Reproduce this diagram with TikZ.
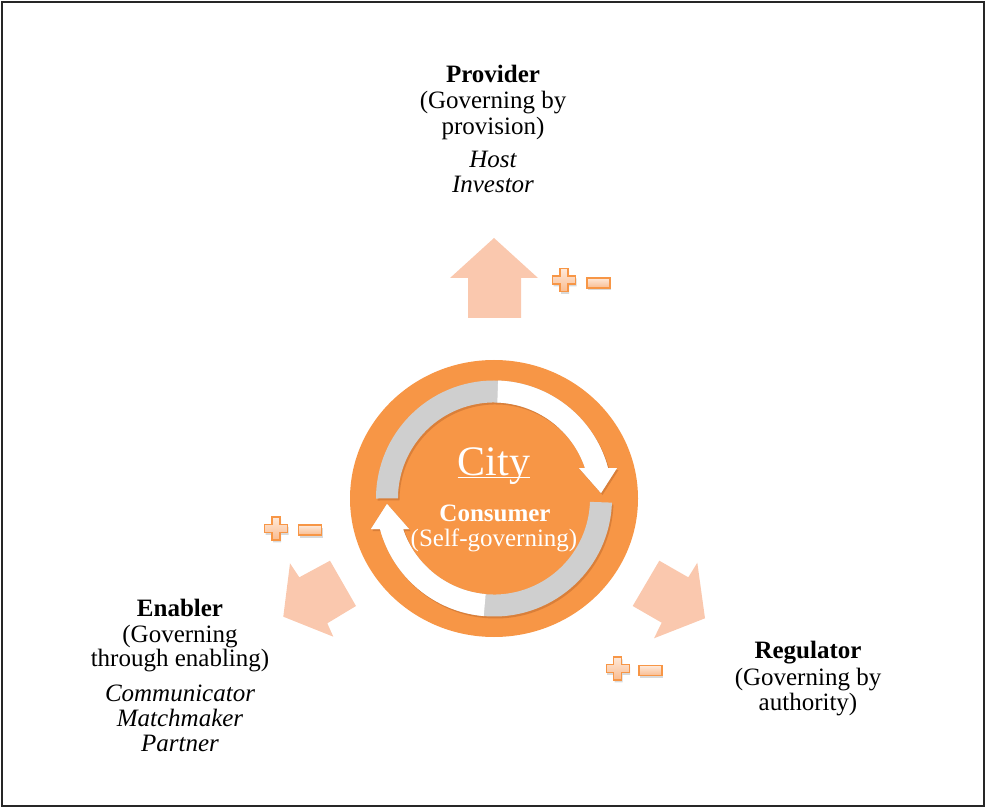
\documentclass[tikz,border=0pt]{standalone}
\usepackage{fontspec}
\setmainfont{Liberation Serif}
\usetikzlibrary{shadows,shapes.geometric}
\definecolor{cityorange}{HTML}{F79646}
\definecolor{peach}{HTML}{FAC8AE}
\definecolor{ringgray}{HTML}{CFCFCF}
\definecolor{icontop}{HTML}{FEE9DA}
\definecolor{iconbot}{HTML}{F9BC90}
\definecolor{ringshadow}{HTML}{B8642A}
\begin{document}
\begin{tikzpicture}[x=1pt,y=1pt,
  lbl/.style={inner sep=0pt, anchor=base, text=black, font=\fontsize{25}{26}\selectfont},
  lblb/.style={lbl, font=\fontsize{25}{26}\selectfont\bfseries},
  lbli/.style={lbl, font=\fontsize{25}{26}\selectfont\itshape},
  citytxt/.style={inner sep=0pt, anchor=base, text=white},
  bigarrow/.style={fill=peach, draw=none},
  ringarrow/.style={fill=ringgray, draw=none,
    drop shadow={shadow xshift=1.5pt, shadow yshift=-2pt, opacity=0.45, fill=ringshadow}},
  icon/.style={draw=cityorange, line width=1.4pt, top color=icontop, bottom color=iconbot,
    drop shadow={shadow xshift=1pt, shadow yshift=-2.5pt, opacity=0.3}},
  plusicon/.pic={\path[icon] (-4,11.5) -- (4,11.5) -- (4,4) -- (11.5,4) -- (11.5,-4) -- (4,-4)
      -- (4,-11.5) -- (-4,-11.5) -- (-4,-4) -- (-11.5,-4) -- (-11.5,4) -- (-4,4) -- cycle;},
  minusicon/.pic={\path[icon] (-11.5,-5) rectangle (11.5,5);}
]
\useasboundingbox (0,0) rectangle (985,807);
% frame
\draw[line width=2pt, black!85] (2,1.5) rectangle (984,804.5);

% big peach arrows
\fill[bigarrow] (494,569) -- (538,529) -- (521,529) -- (521,489) -- (468,489) -- (468,529) -- (450,529) -- cycle;
\fill[bigarrow] (290,243.7) -- (299.3,229.7) -- (330,246.3) -- (356,201) -- (327.3,183.7) -- (333.3,170.3) -- (283.3,190.3) -- cycle;
\fill[bigarrow] (659.3,246.3) -- (688.3,229.7) -- (697.3,244.3) -- (705,188.7) -- (654,168.7) -- (661.7,184.3) -- (632.7,201) -- cycle;

% central circle
\node[ellipse, fill=cityorange, draw=none, inner sep=0pt, minimum width=288pt, minimum height=277pt] (hub) at (494,308.5) {};

% circular arrows
\begin{scope}[shift={(494,308.5)}]
  \path[ringarrow] (180:118) arc[start angle=180,end angle=14.98,radius=118] -- (123,30.5) -- (107,5.5) -- (85,30.5) -- (91,30.5) arc[start angle=18.52,end angle=180,radius=96] -- cycle;
  \fill[white] (88:118) arc[start angle=88,end angle=14.98,radius=118] -- (123,30.5) -- (107,5.5) -- (85,30.5) -- (91,30.5) arc[start angle=18.52,end angle=88,radius=96] -- cycle;
  \path[ringarrow] (-2:118) arc[start angle=-2,end angle=-165.02,radius=118] -- (-123,-30.5) -- (-107,-5.5) -- (-85,-30.5) -- (-91,-30.5) arc[start angle=-161.48,end angle=-2,radius=96] -- cycle;
  \fill[white] (-95:118) arc[start angle=-95,end angle=-165.02,radius=118] -- (-123,-30.5) -- (-107,-5.5) -- (-85,-30.5) -- (-91,-30.5) arc[start angle=-161.48,end angle=-95,radius=96] -- cycle;
\end{scope}

% city texts
\node[citytxt, font=\fontsize{42}{44}\selectfont] (city) at (494,332) {City};
\draw[white, line width=1.6pt] ([yshift=-2.4pt]city.base west) -- ([yshift=-2.4pt]city.base east);
\node[citytxt, font=\fontsize{25}{26}\selectfont\bfseries] (consumer) at (495,285.3) {Consumer};
\node[citytxt, font=\fontsize{25}{26}\selectfont] (selfgov) at (494,260.3) {(Self-governing)};

% provider
\node[lblb] (prov1) at (493,724) {Provider};
\node[lbl]  (prov2) at (493,698) {(Governing by};
\node[lbl]  (prov3) at (493,672) {provision)};
\node[lbli] (prov4) at (493,639) {Host};
\node[lbli] (prov5) at (493,614) {Investor};

% enabler
\node[lblb] (ena1) at (180,191) {Enabler};
\node[lbl]  (ena2) at (180,164.5) {(Governing};
\node[lbl]  (ena3) at (180,140.3) {through enabling)};
\node[lbli] (ena4) at (180,105.3) {Communicator};
\node[lbli] (ena5) at (180,80.3) {Matchmaker};
\node[lbli] (ena6) at (180,55.3) {Partner};

% regulator
\node[lblb] (reg1) at (808,148.7) {Regulator};
\node[lbl]  (reg2) at (808,122) {(Governing by};
\node[lbl]  (reg3) at (808,97) {authority)};

% plus / minus icons
\pic (tplus)  at (564,527)   {plusicon};
\pic (tminus) at (598.5,524) {minusicon};
\pic (lplus)  at (276,278.7) {plusicon};
\pic (lminus) at (310,277)   {minusicon};
\pic (rplus)  at (617.7,138.7) {plusicon};
\pic (rminus) at (650.5,136.5) {minusicon};
\end{tikzpicture}
\end{document}
